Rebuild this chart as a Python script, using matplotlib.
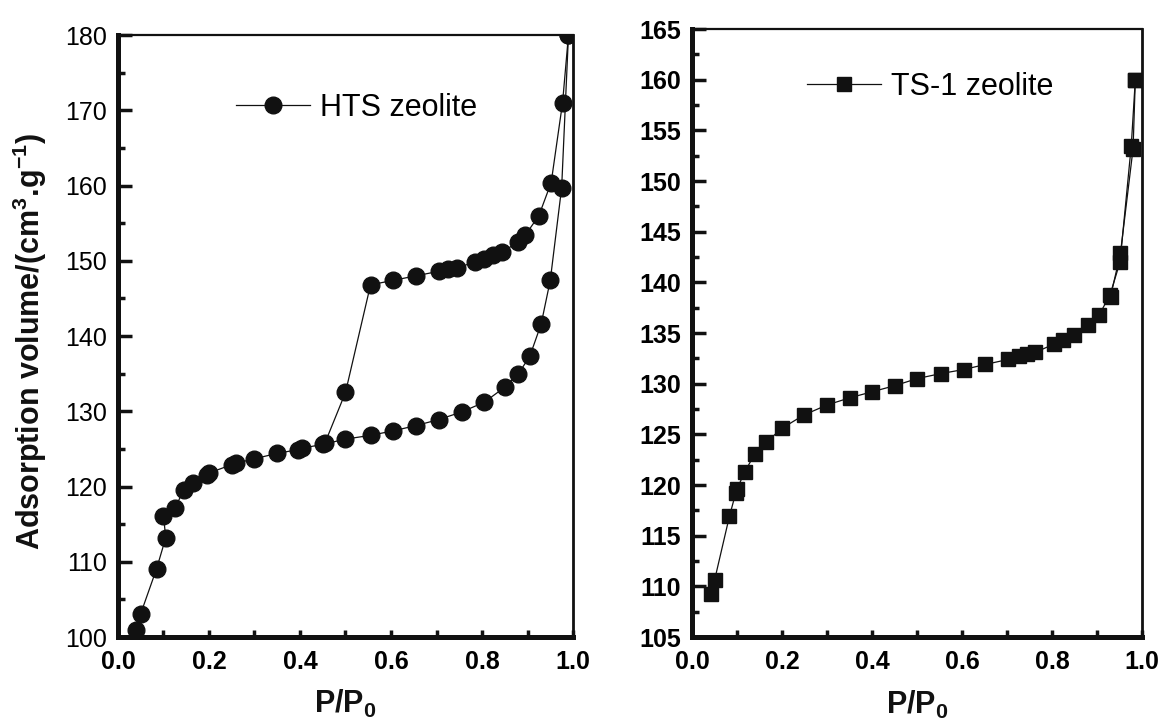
import matplotlib
matplotlib.use("Agg")
import matplotlib.pyplot as plt
from matplotlib.ticker import MultipleLocator

plt.rcParams['font.family'] = ['Liberation Sans', 'DejaVu Sans']
plt.rcParams['mathtext.fontset'] = 'custom'
plt.rcParams['mathtext.bf'] = 'Liberation Sans:bold'
plt.rcParams['mathtext.rm'] = 'Liberation Sans'

# HTS zeolite isotherm (adsorption up, desorption back down)
hts_ads_x = [0.04, 0.05, 0.085, 0.105, 0.10, 0.125, 0.145, 0.165, 0.195, 0.20,
             0.25, 0.26, 0.30, 0.35, 0.395, 0.405, 0.45, 0.50, 0.555, 0.605,
             0.655, 0.705, 0.755, 0.805, 0.85, 0.88, 0.905, 0.93, 0.95, 0.975, 0.99]
hts_ads_y = [100.9, 103.1, 109.1, 113.2, 116.1, 117.1, 119.6, 120.5, 121.5, 121.8,
             122.9, 123.1, 123.7, 124.4, 124.9, 125.1, 125.6, 126.3, 126.8, 127.4,
             128.1, 128.9, 129.9, 131.2, 133.2, 135.0, 137.3, 141.6, 147.4, 159.7, 180.0]
hts_des_x = [0.99, 0.977, 0.952, 0.925, 0.895, 0.88, 0.845, 0.825, 0.805, 0.785,
             0.745, 0.725, 0.705, 0.655, 0.605, 0.555, 0.50, 0.455]
hts_des_y = [180.0, 171.0, 160.4, 156.0, 153.4, 152.5, 151.2, 150.8, 150.3, 149.8,
             149.1, 148.9, 148.6, 148.0, 147.4, 146.8, 132.5, 125.8]

# TS-1 zeolite isotherm
ts_ads_x = [0.042, 0.05, 0.083, 0.097, 0.10, 0.117, 0.14, 0.164, 0.20, 0.248,
            0.30, 0.35, 0.40, 0.45, 0.50, 0.553, 0.604, 0.652, 0.703, 0.726,
            0.745, 0.763, 0.804, 0.825, 0.849, 0.879, 0.905, 0.929, 0.951, 0.976, 0.985]
ts_ads_y = [109.2, 110.6, 116.9, 119.2, 119.6, 121.3, 123.1, 124.2, 125.6, 126.9,
            127.9, 128.6, 129.2, 129.8, 130.5, 131.0, 131.4, 131.9, 132.4, 132.7,
            132.9, 133.1, 133.9, 134.3, 134.8, 135.8, 136.8, 138.8, 142.0, 153.5, 160.0]
ts_des_x = [0.985, 0.98, 0.952, 0.93]
ts_des_y = [160.0, 153.2, 142.9, 138.6]

ink = '#111111'

fig = plt.figure(figsize=(11.68, 7.22), dpi=100)
ax1 = fig.add_axes([0.101, 0.1177, 0.3896, 0.8338])
ax2 = fig.add_axes([0.5925, 0.1177, 0.3853, 0.8421])


def style_axes(ax, ymaj, ymin):
    ax.spines['left'].set_linewidth(3.6)
    ax.spines['bottom'].set_linewidth(3.6)
    ax.spines['top'].set_linewidth(1.6)
    ax.spines['right'].set_linewidth(2.0)
    for s in ax.spines.values():
        s.set_color(ink)
    ax.set_xlim(0.0, 1.0)
    ax.xaxis.set_major_locator(MultipleLocator(0.2))
    ax.xaxis.set_minor_locator(MultipleLocator(0.1))
    ax.yaxis.set_major_locator(MultipleLocator(ymaj))
    ax.yaxis.set_minor_locator(MultipleLocator(ymin))
    ax.tick_params(axis='x', which='both', direction='in', length=5, width=2.5,
                   top=False, color=ink, labelsize=18, pad=9)
    ax.tick_params(axis='y', which='major', direction='in', length=10, width=2.5,
                   right=False, color=ink, labelsize=18, pad=8)
    ax.tick_params(axis='y', which='minor', direction='in', length=5, width=2.5,
                   right=False, color=ink)
    ax.set_xlabel(r'$\mathbf{P/P_0}$', fontsize=22, color=ink, va='top')
    ax.xaxis.set_label_coords(0.5, -0.085)


# left panel
style_axes(ax1, 10, 5)
ax1.set_ylim(100, 180)
ax1.plot(hts_ads_x, hts_ads_y, '-o', color=ink, lw=0.9, ms=12,
         label='HTS zeolite')
ax1.plot(hts_des_x, hts_des_y, '-o', color=ink, lw=0.9, ms=12)
ax1.set_ylabel(r'Adsorption volume/(cm$^\mathbf{3}$.g$^\mathbf{-1}$)',
               fontsize=22, fontweight='bold', color=ink)
ax1.yaxis.set_label_coords(-0.152, 0.49)
ax1.legend(loc='center left', bbox_to_anchor=(0.26, 0.879), frameon=False,
           fontsize=22, handlelength=2.4, handletextpad=0.35, borderpad=0,
           borderaxespad=0)

# right panel
style_axes(ax2, 5, 2.5)
ax2.set_ylim(105, 165)
ax2.plot(ts_ads_x, ts_ads_y, '-s', color=ink, lw=0.9, ms=10.5,
         label='TS-1 zeolite')
ax2.plot(ts_des_x, ts_des_y, '-s', color=ink, lw=0.9, ms=10.5)
ax2.legend(loc='center left', bbox_to_anchor=(0.256, 0.905), frameon=False,
           fontsize=22, handlelength=2.4, handletextpad=0.35, borderpad=0,
           borderaxespad=0)

# tick label weights: x bold on both, y bold only on the right panel
fig.canvas.draw()
for ax in (ax1, ax2):
    for lab in ax.get_xticklabels():
        lab.set_fontweight('bold')
for lab in ax2.get_yticklabels():
    lab.set_fontweight('bold')

fig.savefig('out.png', dpi=100)
